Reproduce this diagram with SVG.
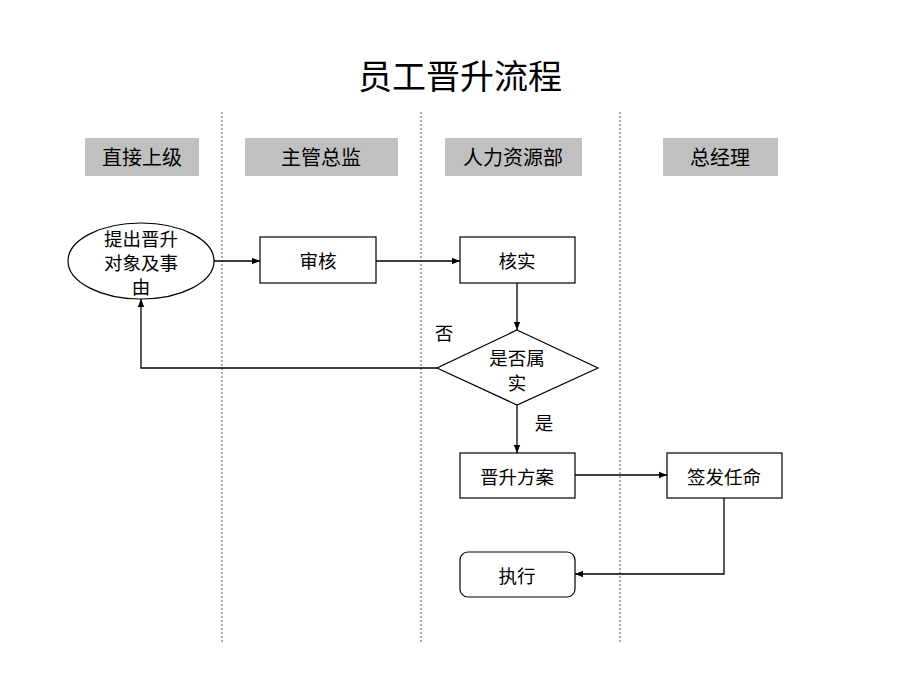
<svg xmlns="http://www.w3.org/2000/svg" width="920" height="690" viewBox="0 0 920 690">
<style>
text{font-family:"Noto Sans CJK SC","Liberation Sans",sans-serif;fill:#000;text-anchor:middle}
.t{font-size:18.5px}
.h{font-size:20px}
.box{fill:#fff;stroke:#000;stroke-width:1.2}
.hdr{fill:#c0c0c0}
.lane{stroke:#555;stroke-width:1;stroke-dasharray:2,2}
.c{fill:none;stroke:#000;stroke-width:1.3}
</style>
<defs>
<marker id="ah" viewBox="0 0 10 10" refX="10" refY="5" markerWidth="8" markerHeight="8" orient="auto" markerUnits="userSpaceOnUse">
<path d="M0,1 L10,5 L0,9 Z" fill="#000"/>
</marker>
</defs>
<rect width="920" height="690" fill="#fff"/>
<text x="460" y="89" style="font-size:34px">员工晋升流程</text>
<g id="lanes">
<line class="lane" x1="222" y1="112" x2="222" y2="642"/>
<line class="lane" x1="421" y1="112" x2="421" y2="642"/>
<line class="lane" x1="620" y1="112" x2="620" y2="642"/>
</g>
<g id="h1"><rect class="hdr" x="85" y="138" width="114" height="38"/><text class="h" x="142" y="165">直接上级</text></g>
<g id="h2"><rect class="hdr" x="245" y="138" width="153" height="38"/><text class="h" x="321" y="165">主管总监</text></g>
<g id="h3"><rect class="hdr" x="445" y="138" width="137" height="38"/><text class="h" x="513" y="165">人力资源部</text></g>
<g id="h4"><rect class="hdr" x="663" y="138" width="115" height="38"/><text class="h" x="720" y="165">总经理</text></g>
<g id="connectors">
<line class="c" x1="214" y1="261" x2="260" y2="261" marker-end="url(#ah)"/>
<line class="c" x1="376" y1="261" x2="460" y2="261" marker-end="url(#ah)"/>
<line class="c" x1="517" y1="283" x2="517" y2="330" marker-end="url(#ah)"/>
<polyline class="c" points="437,368 141,368 141,299" marker-end="url(#ah)"/>
<line class="c" x1="517" y1="405" x2="517" y2="453" marker-end="url(#ah)"/>
<line class="c" x1="575" y1="475" x2="667" y2="475" marker-end="url(#ah)"/>
<polyline class="c" points="724,498 724,574 575,574" marker-end="url(#ah)"/>
<text class="t" x="444" y="340">否</text>
<text class="t" x="544" y="430">是</text>
</g>
<g id="n1"><ellipse class="box" cx="141" cy="261" rx="73" ry="38"/><text class="t" x="141" y="246">提出晋升</text><text class="t" x="141" y="270">对象及事</text><text class="t" x="141" y="294">由</text></g>
<g id="n2"><rect class="box" x="260" y="237" width="116" height="46"/><text class="t" x="318" y="268">审核</text></g>
<g id="n3"><rect class="box" x="460" y="237" width="115" height="46"/><text class="t" x="517" y="268">核实</text></g>
<g id="n4"><polygon class="box" points="517,330 598,368 517,405 437,368"/><text class="t" x="517" y="365">是否属</text><text class="t" x="517" y="390">实</text></g>
<g id="n5"><rect class="box" x="460" y="453" width="115" height="45"/><text class="t" x="517" y="484">晋升方案</text></g>
<g id="n6"><rect class="box" x="667" y="453" width="115" height="45"/><text class="t" x="724" y="484">签发任命</text></g>
<g id="n7"><rect class="box" x="460" y="552" width="115" height="45" rx="8"/><text class="t" x="517" y="583">执行</text></g>
</svg>
